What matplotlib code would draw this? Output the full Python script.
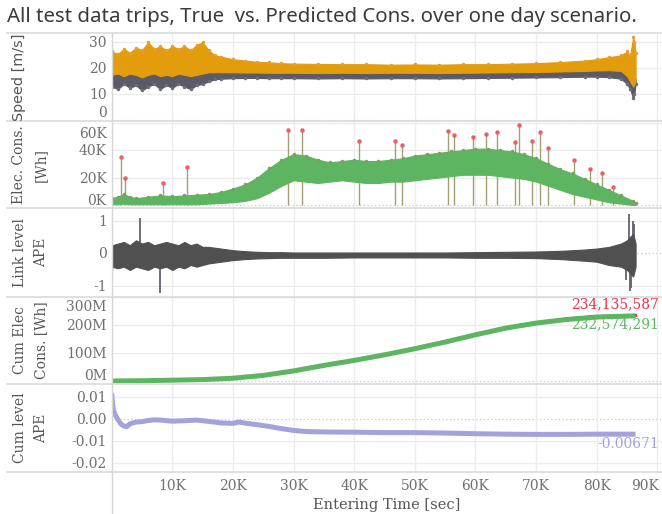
import numpy as np
import matplotlib
matplotlib.use('Agg')
import matplotlib.pyplot as plt
from matplotlib.transforms import ScaledTranslation, blended_transform_factory
from matplotlib.lines import Line2D

# ---------------- DATA (time in K sec) ----------------
# Speed panel: envelopes of the dense predicted (orange) / true (gray) series
sp_t = [0, 1, 2, 3, 4, 5, 6, 7, 8, 9, 10, 11, 12, 13, 14, 15, 16, 17, 18, 20, 22, 24, 26, 28, 30,
        34, 38, 42, 46, 50, 54, 58, 62, 66, 70, 74, 78, 80, 82, 84, 85, 85.5, 86, 86.2, 86.4]
sp_orange_top = [26.5, 25.5, 27.5, 26, 28, 27, 30, 27.5, 28.5, 27, 28.5, 27.5, 28.5, 27, 29, 30, 27, 25,
                 24.5, 23.5, 23, 22.5, 22.3, 22, 21.8, 21.7, 21.6, 21.6, 21.4, 21.5, 21.4, 21.6, 21.6,
                 21.8, 22, 22.4, 23, 23.5, 24.3, 25, 26.5, 25, 32, 30, 26]
sp_orange_bot = [17.5, 18, 17, 18, 17.5, 16.5, 17.5, 18, 17, 17.5, 17, 18, 17.5, 17, 17.5, 18, 18.5, 18.5,
                 18.5, 18.5, 18.4, 18.4, 18.3, 18.3, 18.3, 18.2, 18.3, 18.2, 18.3, 18.3, 18.2, 18.3, 18.4,
                 18.5, 18.6, 18.8, 19, 19.2, 19.3, 19, 17, 15, 13, 14, 16]
sp_gray_bot = [13, 12, 14, 12.5, 13.5, 11.5, 13, 14, 12, 13.5, 12.5, 14, 13, 12, 13.5, 14, 15, 15.8, 16,
               16.2, 16.3, 16.3, 16.2, 16.2, 16.2, 16.1, 16.2, 16.1, 16.2, 16.2, 16.1, 16.2, 16.3, 16.4,
               16.5, 16.6, 16.8, 16.8, 16.6, 16, 14, 12, 8.5, 10, 14]
speed_ticks = [0, 10, 20, 30]

# Elec. consumption (K Wh): band envelopes + spikes
el_t = [0, 1, 2, 3, 4, 6, 8, 10, 12, 14, 16, 18, 20, 22, 24, 26, 28, 30, 32, 34, 36, 38, 40, 42, 44,
        46, 48, 50, 52, 54, 56, 58, 60, 62, 64, 66, 68, 70, 72, 74, 76, 78, 80, 82, 84, 86, 86.4]
el_top = [5, 6, 8, 6, 5, 6, 7, 6.5, 7, 7.5, 8, 9.5, 12, 15, 20, 27, 33, 37, 36, 33, 31, 32, 33, 32, 32,
          33, 34, 36, 37, 38, 39, 40, 41, 41, 40, 39, 37, 34, 30, 26, 23, 19, 15, 11, 7, 3, 1.5]
el_bot = [0.5, 0.5, 1, 0.5, 0.5, 0.5, 0.5, 0.5, 0.5, 0.5, 1, 1.5, 2, 3, 5, 9, 14, 18, 17, 16, 17, 18, 17,
          16, 16, 17, 17, 18, 19, 20, 21, 22, 22, 22, 21, 20, 19, 17, 14, 11, 8, 6, 4, 2, 1, 0, 0]
el_spk_t = [1.5, 2.2, 8.4, 12.4, 29.0, 31.4, 40.8, 46.7, 47.9, 55.5, 56.5, 59.6, 61.8, 63.5, 66.5,
            67.2, 69.4, 70.6, 72.0, 76.3, 78.9, 80.8, 82.7]
el_spk_v = [35, 20, 15.8, 27.4, 54.5, 54.5, 46.8, 46.8, 43.6, 53.8, 51, 49.7, 52, 53.3, 46,
            58.2, 46.5, 52.9, 41.7, 32.7, 26, 23.5, 13]
elec_ticks = [0, 20, 40, 60]

# Link level APE
ap_t = [0, 0.1, 1, 2, 3, 4, 5, 6, 7, 8, 9, 10, 11, 12, 13, 14, 15, 16, 18, 20, 22, 24, 26, 28, 30,
        35, 40, 45, 50, 55, 60, 65, 70, 74, 78, 80, 82, 84, 85, 85.5, 86, 86.4]
ap_top = [0.2, 0.25, 0.3, 0.35, 0.25, 0.4, 0.3, 0.35, 0.25, 0.3, 0.35, 0.3, 0.25, 0.35, 0.25, 0.3, 0.2,
          0.2, 0.15, 0.1, 0.07, 0.05, 0.04, 0.04, 0.03, 0.03, 0.03, 0.03, 0.03, 0.03, 0.04, 0.05, 0.06,
          0.08, 0.12, 0.15, 0.2, 0.3, 0.4, 0.5, 0.6, 0.3]
ap_bot = [-0.6, -0.4, -0.45, -0.4, -0.5, -0.4, -0.45, -0.5, -0.4, -0.45, -0.4, -0.5, -0.4, -0.45, -0.35,
          -0.4, -0.35, -0.3, -0.25, -0.2, -0.17, -0.15, -0.14, -0.13, -0.13, -0.13, -0.12, -0.12, -0.12,
          -0.12, -0.13, -0.13, -0.14, -0.17, -0.22, -0.25, -0.35, -0.4, -0.5, -0.6, -0.7, -0.4]
ap_spk_t = [4.6, 8.0, 84.9, 85.3, 85.5, 85.7, 85.9, 86.1]
ap_spk_v = [1.07, -1.19, -0.8, 1.2, -1.13, -1.05, 1.0, 0.9]
ape_ticks = [-1, 0, 1]

# Cumulative consumption (M Wh)
ce_t = [0, 5, 10, 15, 20, 25, 30, 35, 40, 45, 50, 55, 60, 65, 70, 75, 80, 86.4]
ce_true = [0, 1, 3, 5, 10, 20, 36, 56, 74, 94, 116, 140, 166, 190, 208, 221, 230, 234.135587]
ce_pred = [0, 1, 3, 5, 10, 20, 36, 55.7, 73.6, 93.5, 115.3, 139.2, 165, 188.9, 206.8, 219.6, 228.5, 232.574291]
cum_ticks = [0, 100, 200, 300]

# Cumulative APE
ca_t = [0, 0.1, 0.3, 0.6, 1, 1.5, 2, 2.5, 3, 4, 5, 6, 7, 8, 10, 12, 14, 16, 18, 20, 21, 22, 24, 26, 28,
        30, 32, 35, 40, 45, 50, 55, 60, 65, 70, 75, 80, 86.4]
ca_v = [0.012, 0.008, 0.004, 0.002, 0.0, -0.002, -0.003, -0.0033, -0.002, -0.0012, -0.001, -0.0005,
        -0.0002, -0.0003, -0.0008, -0.0006, -0.0003, -0.0009, -0.0016, -0.0018, -0.0012, -0.0017,
        -0.0024, -0.0032, -0.0042, -0.005, -0.0055, -0.0057, -0.0058, -0.006, -0.006, -0.0062,
        -0.0065, -0.0067, -0.0068, -0.0068, -0.0067, -0.00671]
ca_start_t = [0, 0]
ca_start_v = [-0.022, 0.014]
capE_ticks = [-0.02, -0.01, 0.0, 0.01]

x_ticks = [10, 20, 30, 40, 50, 60, 70, 80, 90]

# ---------------- FIGURE ----------------
W, H = 662, 514
fig = plt.figure(figsize=(W / 100, H / 100), dpi=100)
fig.patch.set_facecolor('white')

def fx(x): return x / W
def fy(y): return 1 - y / H
def px(dx, dy):
    return ScaledTranslation(dx / 100, -dy / 100, fig.dpi_scale_trans)

X0 = 111.7
XMAX = 90.76
panels = [(33, 121, -0.27, 33.6), (121, 208, -2.18, 61.1), (208, 297, -1.32, 1.38),
          (297, 384, -10.7e6, 300e6), (384, 472, -0.0239, 0.0161)]
axes = []
for top, bot, y0, y1 in panels:
    ax = fig.add_axes([fx(X0), fy(bot), fx(W - X0), (bot - top) / H])
    ax.set_xlim(0, XMAX * 1000)
    ax.set_ylim(y0, y1)
    for s in ax.spines.values():
        s.set_visible(False)
    ax.tick_params(length=0, labelbottom=False, labelleft=False)
    ax.set_xticks(np.array(x_ticks) * 1000)
    ax.set_yticks([])
    ax.xaxis.grid(True, color='#ececec', lw=1)
    ax.set_axisbelow(True)
    axes.append(ax)

TICK = dict(family='DejaVu Serif', size=10, color='#707070')
TITLE_SERIF = dict(family='DejaVu Serif', size=10, color='#555555')

def grid_and_labels(ax, vals, labels, scale=1.0, shifts=None):
    shifts = shifts or {}
    tr = blended_transform_factory(ax.transAxes, ax.transData)
    for v, lab in zip(vals, labels):
        if v == 0:
            ax.axhline(0, color='#c8c8c8', lw=0.9, ls=(0, (1, 2)), zorder=0.5)
        else:
            ax.axhline(v * scale, color='#ececec', lw=1, zorder=0.5)
        ax.text(0, v * scale, lab, transform=tr + px(-5, shifts.get(lab, 0) + 1),
                ha='right', va='center', clip_on=False, **TICK)

sec = lambda a: np.array(a) * 1000.0

# Panel 1: Speed
ax = axes[0]
grid_and_labels(ax, speed_ticks, ['0', '10', '20', '30'], shifts={'0': -8})
ax.fill_between(sec(sp_t), sp_gray_bot, sp_orange_bot, color='#5b5b68', lw=0.8, ec='#5b5b68', zorder=2)
ax.fill_between(sec(sp_t), sp_orange_bot, sp_orange_top, color='#e39c0b', lw=0.8, ec='#e39c0b', zorder=3)
ax.plot(sec(sp_t), sp_orange_top, 'o', ms=1.5, color='#e3a030', zorder=3)
ax.plot(sec(sp_t), sp_gray_bot, 'o', ms=1.5, color='#6e6e7a', zorder=2)

# Panel 2: Elec cons
ax = axes[1]
grid_and_labels(ax, elec_ticks, ['0K', '20K', '40K', '60K'], shifts={'0K': -5, '60K': 10})
ax.vlines(sec(el_spk_t), 0, el_spk_v, color='#a39f72', lw=1.0, zorder=2)
ax.fill_between(sec(el_t), el_bot, el_top, color='#5db562', lw=0.8, ec='#5db562', zorder=3)
ax.plot(sec(el_spk_t), el_spk_v, 'o', ms=2.2, color='#e8606a', zorder=4)
ax.plot(sec(el_t), el_top, 'o', ms=1.5, color='#7aa060', zorder=3)

# Panel 3: Link level APE
ax = axes[2]
grid_and_labels(ax, ape_ticks, ['-1', '0', '1'])
ax.vlines(sec(ap_spk_t), 0, ap_spk_v, color='#62626e', lw=1.3, zorder=2)
ax.fill_between(sec(ap_t), ap_bot, ap_top, color='#505050', lw=0.8, ec='#505050', zorder=3)

# Panel 4: Cum Elec
ax = axes[3]
grid_and_labels(ax, cum_ticks, ['0M', '100M', '200M', '300M'], scale=1e6,
                shifts={'0M': -6, '300M': 9})
ax.plot(sec(ce_t), np.array(ce_true) * 1e6, color='#e8334a', lw=2.2, zorder=2)
ax.plot(sec(ce_t), np.array(ce_pred) * 1e6, color='#5db562', lw=3.6, zorder=3,
        solid_capstyle='butt')
ax.text(1.0, 1.0, f'{ce_true[-1]*1e6:,.0f}', transform=ax.transAxes + px(-3, 7.5),
        ha='right', va='center', family='DejaVu Serif', size=10, color='#e8334a')
ax.text(1.0, 1.0, f'{ce_pred[-1]*1e6:,.0f}', transform=ax.transAxes + px(-3, 27.3),
        ha='right', va='center', family='DejaVu Serif', size=10, color='#5fb865')

# Panel 5: Cum APE
ax = axes[4]
grid_and_labels(ax, capE_ticks, ['-0.02', '-0.01', '0.00', '0.01'])
ax.plot(sec(ca_start_t), ca_start_v, color='#a6a5dc', lw=1.3, zorder=2)
ax.plot(sec(ca_t), ca_v, color='#a3a2db', lw=3.6, zorder=3, solid_capstyle='butt')
ax.text(1.0, ca_v[-1], f'{ca_v[-1]:.5f}',
        transform=blended_transform_factory(ax.transAxes, ax.transData) + px(-3, 9.5),
        ha='right', va='center', family='DejaVu Serif', size=10, color='#a3a2db')

# x tick labels
trx = blended_transform_factory(ax.transData, ax.transAxes)
for v in x_ticks:
    dx = -12 if v == 90 else 0
    ax.text(v * 1000, 0, f'{v}K', transform=trx + px(dx, 13.5), ha='center', va='center',
            clip_on=False, **TICK)
fig.text(fx(X0 + (W - X0) / 2), fy(505), 'Entering Time [sec]', ha='center', va='center',
         family='DejaVu Serif', size=10.5, color='#555555')

# ---------------- separators & frame ----------------
for y in [33, 121, 208, 297, 384, 472]:
    fig.add_artist(Line2D([fx(7), 1], [fy(y), fy(y)], color='#dadada', lw=1.2))
fig.add_artist(Line2D([fx(112), fx(112)], [fy(33), 0], color='#d6d6d6', lw=1.0))

# y-axis titles
ytitles = [(['Speed [m/s]'], 'sans'), (['Elec. Cons.', '[Wh]'], 'serif'),
           (['Link level', 'APE'], 'serif'), (['Cum Elec', 'Cons. [Wh]'], 'serif'),
           (['Cum level', 'APE'], 'serif')]
for (top, bot, _, _), (lines, kind) in zip(panels, ytitles):
    cy = (top + bot) / 2
    for i, ln in enumerate(lines):
        xpos = 19.5 + 21.5 * i
        if kind == 'sans':
            fig.text(fx(xpos), fy(cy), ln, rotation=90, ha='center', va='center',
                     family='DejaVu Sans', size=10.4, color='#555555')
        else:
            fig.text(fx(xpos), fy(cy), ln, rotation=90, ha='center', va='center', **TITLE_SERIF)

# title, fitted to measured width
t = fig.text(fx(7), fy(22), 'All test data trips, True  vs. Predicted Cons. over one day scenario.',
             ha='left', va='baseline', family='Noto Sans', size=12, color='#3a3a3a')
r = fig.canvas.get_renderer()
w = t.get_window_extent(renderer=r).width
t.set_fontsize(12 * 629 / w)

fig.savefig('out.png', dpi=100, facecolor='white')
